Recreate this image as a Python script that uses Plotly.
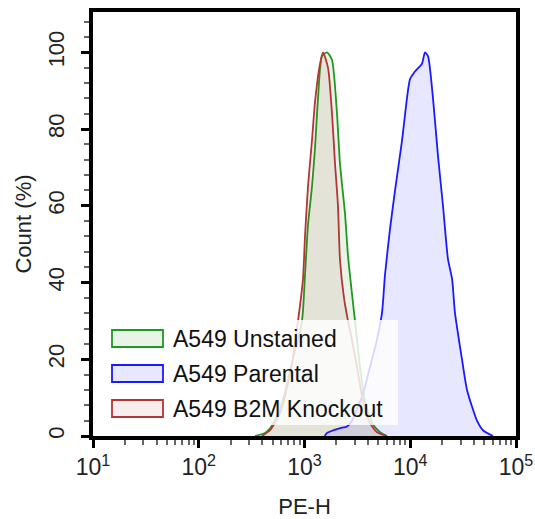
import plotly.graph_objects as go

# ---------------- data ----------------
series_names = ["A549 Unstained", "A549 Parental", "A549 B2M Knockout"]

unstained_x = [340, 423, 472, 587, 729, 947, 1011, 1079, 1177, 1257, 1342, 1464, 1633,
               1820, 2029, 2165, 2415, 2578, 2813, 3004, 3350, 3734, 4347, 5175, 6025]
unstained_y = [0, 0.8, 2, 7, 17, 30, 42, 55, 65, 75, 88, 99, 100,
               98, 84, 71, 58, 47, 37, 30, 18, 9, 3.4, 1, 0]

parental_x = [1550, 1633, 2165, 2524, 2813, 3137, 3576, 4163, 4743, 5404, 5770, 6437,
              7180, 8360, 9310, 9950, 11090, 12910, 13780, 14720, 16410, 18290, 20400,
              22760, 24840, 26500, 30840, 34420, 42770, 48740, 60560]
parental_y = [0, 0.8, 2, 2.5, 4, 7, 11, 18, 24, 32, 42, 54,
              64, 77, 88, 93, 95, 97, 100, 99, 88, 73, 60,
              46, 41, 32, 20, 12, 4, 1.5, 0]

knockout_x = [396, 472, 587, 729, 868, 968, 1011, 1079, 1177, 1257, 1402, 1496, 1668,
              1820, 1943, 2073, 2165, 2363, 2578, 2813, 3137, 3576, 4163, 4850, 6025]
knockout_y = [0, 1.5, 6, 16, 30, 41, 52, 65, 77, 87, 97, 100, 96,
              84, 71, 60, 46, 36, 30, 25, 18, 9, 3.4, 1, 0]

x_tick_vals = [10, 100, 1000, 10000, 100000]
x_tick_text = ["10<sup>1</sup>", "10<sup>2</sup>", "10<sup>3</sup>", "10<sup>4</sup>", "10<sup>5</sup>"]
x_minor_vals = [m * d for d in [10, 100, 1000, 10000] for m in range(2, 10)]
y_tick_vals = [0, 20, 40, 60, 80, 100]
y_tick_text = ["0", "20", "40", "60", "80", "100"]

# ---------------- styling ----------------
W, H = 535, 519
L, R, T, B = 93, 19, 12, 83
line_colors = ["#1f9a1f", "#1a1aff", "#b53535"]
fill_colors = ["rgba(0,128,0,0.09)", "rgba(0,0,255,0.095)", "rgba(178,34,34,0.08)"]
FONT = "Liberation Sans, Arial, sans-serif"

fig = go.Figure()
for name, xs, ys, lc, fc in zip(series_names,
                                [unstained_x, parental_x, knockout_x],
                                [unstained_y, parental_y, knockout_y],
                                line_colors, fill_colors):
    fig.add_trace(go.Scatter(
        x=xs, y=ys, name=name, mode="lines", fill="tozeroy",
        fillcolor=fc, line=dict(color=lc, width=1.8, shape="spline", smoothing=0.6),
        showlegend=False, hoverinfo="skip"))

pw = W - L - R
ph = H - T - B


def px_x(px):
    return (px - L) / pw


def px_y(py):
    return (H - B - py) / ph


shapes = [dict(type="rect", xref="paper", yref="paper", layer="above",
               x0=px_x(95), x1=px_x(398), y0=px_y(425), y1=px_y(320),
               fillcolor="rgba(255,255,255,0.82)", line=dict(width=0))]
annotations = []
row_centers = [338.5, 373.5, 408.5]
for name, lc, fc, cy in zip(series_names, line_colors, fill_colors, row_centers):
    shapes.append(dict(type="rect", xref="paper", yref="paper", layer="above",
                       x0=px_x(112), x1=px_x(163), y0=px_y(cy + 8.5), y1=px_y(cy - 8.5),
                       fillcolor=fc, line=dict(color=lc, width=1.8)))
    annotations.append(dict(xref="paper", yref="paper", x=px_x(171), y=px_y(cy),
                            text=name, showarrow=False, xanchor="left", yanchor="middle",
                            font=dict(family=FONT, size=23, color="#111")))

fig.update_layout(
    width=W, height=H,
    margin=dict(l=L, r=R, t=T, b=B, pad=0, autoexpand=False),
    paper_bgcolor="white", plot_bgcolor="white",
    font=dict(family=FONT, color="#222"),
    shapes=shapes, annotations=annotations,
    showlegend=False,
    xaxis=dict(
        type="log", range=[1, 5], automargin=False,
        tickmode="array", tickvals=x_tick_vals, ticktext=x_tick_text,
        tickfont=dict(size=23, color="#222"),
        ticks="outside", ticklen=8, tickwidth=3, tickcolor="black",
        minor=dict(tickmode="array", tickvals=x_minor_vals, ticks="outside",
                   ticklen=5, tickwidth=2, tickcolor="#666"),
        showline=True, linewidth=3.5, linecolor="black", mirror=True,
        showgrid=False, zeroline=False,
        title=dict(text="PE-H", font=dict(size=22, color="#222"), standoff=21),
    ),
    yaxis=dict(
        range=[0, 110.5], automargin=False,
        tickmode="array", tickvals=y_tick_vals, ticktext=y_tick_text,
        tickangle=-90,
        tickfont=dict(size=22, color="#222"),
        ticks="outside", ticklen=8, tickwidth=3, tickcolor="black",
        minor=dict(dtick=4, tick0=0, ticks="outside", ticklen=5, tickwidth=2, tickcolor="#666"),
        showline=True, linewidth=3.5, linecolor="black", mirror=True,
        showgrid=False, zeroline=False,
        ticklabelstandoff=8,
        title=dict(text="Count (%)", font=dict(size=22, color="#222"), standoff=8),
    ),
)

fig.write_html(
    "out.html",
    config={"displayModeBar": False},
    post_script="document.body.style.margin='0';document.body.style.overflow='hidden';",
)
